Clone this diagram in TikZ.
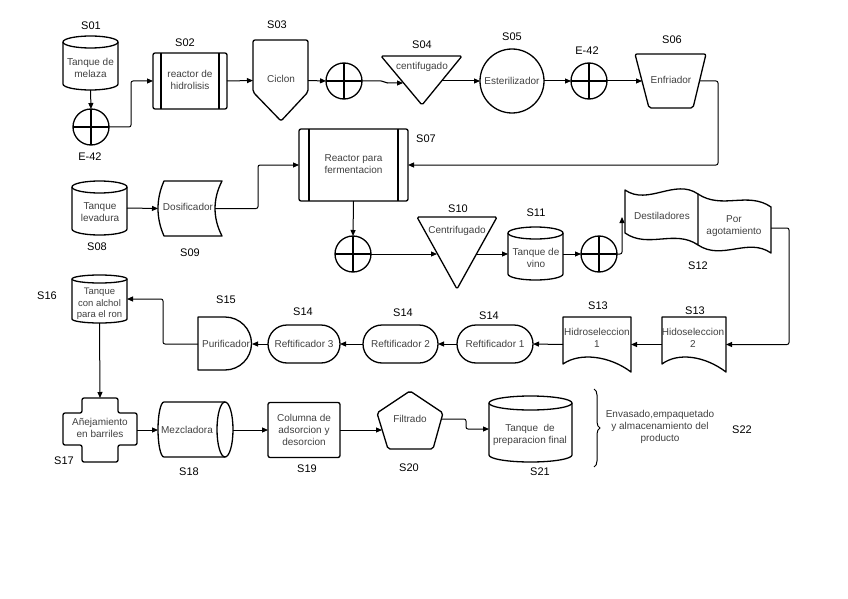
\documentclass[tikz,border=0pt]{standalone}
\usepackage{fontspec}
\setmainfont{Liberation Sans}
\usetikzlibrary{arrows.meta,decorations.pathreplacing}
\newcommand\VCyl[5]{%
 \pgfmathsetmacro\cylrx{(#3-#1)/2}%
 \draw[shp] (#1,#2+#5) -- (#1,#4-#5) arc[start angle=180,end angle=360,x radius=\cylrx pt,y radius=#5pt] -- (#3,#2+#5) arc[start angle=0,end angle=180,x radius=\cylrx pt,y radius=#5pt] -- cycle;
 \draw[shp] (#1,#2+#5) arc[start angle=180,end angle=360,x radius=\cylrx pt,y radius=#5pt];
}
\begin{document}
\begin{tikzpicture}[x=1pt,y=-1pt,
 shp/.style={line width=1.3pt, line join=round},
 bnd/.style={inner sep=0pt, outer sep=0pt, draw=none, rectangle},
 lbl/.style={font=\fontsize{11}{13}\selectfont, text=black, inner sep=0pt},
 txt/.style={font=\fontsize{10}{12}\selectfont, text=black!75, align=center, inner sep=0pt, outer sep=0pt},
 con/.style={line width=1pt, rounded corners=2pt, -{Triangle[length=6pt,width=5pt]}},
 xcirc/.style={circle, draw, shp, minimum size=36pt, inner sep=0pt, outer sep=0pt},
]
\useasboundingbox (0,0) rectangle (848,599);

% S01
\VCyl{63}{36}{118}{90}{6}
\node[bnd, minimum width=55pt, minimum height=54pt] (s01) at (90.5,63) {};
\node[txt] (t01) at (90.5,68) {Tanque de\\melaza};
\node[lbl] (l01) at (91,26) {S01};

% E-42 (1)
\node[xcirc] (e1) at (91,127) {};
\draw[shp] (e1.north) -- (e1.south) (e1.west) -- (e1.east);
\node[lbl] (le1) at (90,157) {E-42};

% S02
\node[shp, draw, rounded corners=2pt, minimum width=74pt, minimum height=56pt, inner sep=0pt, outer sep=0pt] (s02) at (190,81) {};
\draw[shp] ([xshift=8pt]s02.north west) -- ([xshift=8pt]s02.south west) ([xshift=-8pt]s02.north east) -- ([xshift=-8pt]s02.south east);
\node[txt] (t02) at (190,80) {reactor de\\hidrolisis};
\node[lbl] (l02) at (185,43) {S02};

% S03
\draw[shp, rounded corners=2pt] (253,40) -- (308,40) -- (308,92) -- (281,121) -- (253,92) -- cycle;
\node[bnd, minimum width=55pt, minimum height=81pt] (s03) at (280.5,80.5) {};
\node[txt] (t03) at (281,79) {Ciclon};
\node[lbl] (l03) at (277,25) {S03};

% E-42 (2)
\node[xcirc] (e2) at (344,81) {};
\draw[shp] (e2.north) -- (e2.south) (e2.west) -- (e2.east);

% S04
\draw[shp, rounded corners=1.5pt] (381,56) -- (462,56) -- (422,105) -- cycle;
\coordinate (s04in) at (403,83);
\coordinate (s04out) at (442,81);
\node[txt] (t04) at (422,67) {centifugado};
\node[lbl] (l04) at (422,45) {S04};

% S05
\node[txt, shp, draw, circle, minimum size=64pt] (s05) at (512,81) {Esterilizador};
\node[lbl] (l05) at (512,37) {S05};

% E-42 (3)
\node[xcirc] (e3) at (589,81) {};
\draw[shp] (e3.north) -- (e3.south) (e3.west) -- (e3.east);
\node[lbl] (le3) at (587,51) {E-42};

% S06
\draw[shp, rounded corners=2pt] (635,54) -- (706,54) -- (693,108) -- (649,108) -- cycle;
\coordinate (s06in) at (642,81);
\coordinate (s06out) at (700,81);
\node[txt] (t06) at (671,80) {Enfriador};
\node[lbl] (l06) at (672,40) {S06};

% S07
\node[shp, draw, rounded corners=2pt, minimum width=109pt, minimum height=72pt, inner sep=0pt, outer sep=0pt] (s07) at (353.5,165) {};
\draw[shp] ([xshift=10pt]s07.north west) -- ([xshift=10pt]s07.south west) ([xshift=-10pt]s07.north east) -- ([xshift=-10pt]s07.south east);
\node[txt] (t07) at (353.5,164) {Reactor para\\fermentacion};
\node[lbl] (l07) at (426,139) {S07};

% S08
\VCyl{72}{181}{127}{235}{6}
\node[bnd, minimum width=55pt, minimum height=54pt] (s08) at (99.5,208) {};
\node[txt] (t08) at (100,212) {Tanque\\levadura};
\node[lbl] (l08) at (97,247) {S08};

% S09
\draw[shp] (164,181) -- (222,181) .. controls (212.7,199) and (212.7,218) .. (222,236) -- (164,236) .. controls (156,218) and (156,199) .. (164,181) -- cycle;
\node[bnd, minimum width=64pt, minimum height=55pt] (s09) at (190,208.5) {};
\coordinate (s09out) at (215,208.5);
\node[txt] (t09) at (188,207) {Dosificador};
\node[lbl] (l09) at (190,253) {S09};

% E (4)
\node[xcirc] (e4) at (353,254) {};
\draw[shp] (e4.north) -- (e4.south) (e4.west) -- (e4.east);

% S10
\draw[shp, rounded corners=1.5pt] (417,217) -- (497,217) -- (457,289) -- cycle;
\coordinate (s10in) at (437,254);
\coordinate (s10out) at (476,254);
\node[txt] (t10) at (457,231) {Centrifugado};
\node[lbl] (l10) at (458,209) {S10};

% S11
\VCyl{508}{227}{563}{280}{6}
\node[bnd, minimum width=55pt, minimum height=53pt] (s11) at (535.5,254) {};
\node[txt] (t11) at (536,258) {Tanque de\\vino};
\node[lbl] (l11) at (536,213) {S11};

% E (5)
\node[xcirc] (e5) at (599,254) {};
\draw[shp] (e5.north) -- (e5.south) (e5.west) -- (e5.east);
\coordinate (s12in) at (622,217);

% S12
\draw[shp] (625,190) .. controls (648,206) and (675,178) .. (698,194) -- (698,245) .. controls (675,229) and (648,249) .. (625,233) -- cycle;
\draw[shp] (698,194) .. controls (722,210) and (748,191) .. (771,207) -- (771,253) .. controls (748,237) and (722,261) .. (698,245);
\coordinate (s12out) at (771,228);
\node[txt] (t12a) at (662,216) {Destiladores};
\node[txt] (t12b) at (734,226) {Por\\agotamiento};
\node[lbl] (l12) at (698,266) {S12};

% S13 (2)
\draw[shp] (662,364) -- (662,317) -- (726,317) -- (726,372) .. controls (705,356) and (678,352) .. (662,364) -- cycle;
\node[bnd, minimum width=64pt, minimum height=55pt] (s13b) at (694,344.5) {};
\node[txt] (t13b) at (693,338) {Hidoseleccion\\2};
\node[lbl] (l13b) at (695,311) {S13};

% S13 (1)
\draw[shp] (563,364) -- (563,317) -- (631,317) -- (631,372) .. controls (610,356) and (580,352) .. (563,364) -- cycle;
\node[bnd, minimum width=68pt, minimum height=55pt] (s13a) at (597,344.5) {};
\node[txt] (t13a) at (597,338) {Hidroseleccion\\1};
\node[lbl] (l13a) at (598,306) {S13};

% S14
\node[txt, shp, draw, rounded corners=19pt, minimum width=76pt, minimum height=38pt] (r1) at (495,344) {Reftificador 1};
\node[lbl] (l14a) at (489,316) {S14};
\node[txt, shp, draw, rounded corners=19pt, minimum width=75pt, minimum height=38pt] (r2) at (400.5,344) {Reftificador 2};
\node[lbl] (l14b) at (403,313) {S14};
\node[txt, shp, draw, rounded corners=19pt, minimum width=72pt, minimum height=38pt] (r3) at (304,344) {Reftificador 3};
\node[lbl] (l14c) at (303,312) {S14};

% S15
\draw[shp] (225,317) -- (198,317) -- (198,370) -- (225,370) arc[start angle=-90,end angle=90,radius=26.5pt] -- cycle;
\node[bnd, minimum width=54pt, minimum height=53pt] (s15) at (225,344) {};
\node[txt] (t15) at (226,344) {Purificador};
\node[lbl] (l15) at (226,300) {S15};

% S16
\VCyl{72}{275}{127}{323}{4}
\node[bnd, minimum width=55pt, minimum height=48pt] (s16) at (99.5,299) {};
\node[txt, font=\fontsize{9.5}{11.5}\selectfont] (t16) at (99.5,304) {Tanque\\con alchol\\para el ron};
\node[lbl] (l16) at (47,296) {S16};

% S17
\draw[shp, rounded corners=2pt] (82,398) -- (118,398) -- (118,413) -- (137,413) -- (137,445) -- (118,445) -- (118,462) -- (82,462) -- (82,445) -- (63,445) -- (63,413) -- (82,413) -- cycle;
\node[bnd, minimum width=74pt, minimum height=64pt] (s17) at (100,430) {};
\node[txt] (t17) at (100,428) {Añejamiento\\en barriles};
\node[lbl] (l17) at (64,461) {S17};

% S18
\draw[shp] (225,402) -- (164,402) arc[start angle=90,end angle=270,x radius=6pt,y radius=27.5pt] -- (225,457);
\draw[shp] (225,429.5) ellipse[x radius=8pt, y radius=27.5pt];
\node[bnd, minimum width=75pt, minimum height=55pt] (s18) at (195.5,430) {};
\node[txt] (t18) at (187,430) {Mezcladora};
\node[lbl] (l18) at (189,472) {S18};

% S19
\node[txt, shp, draw, rounded corners=2pt, minimum width=72pt, minimum height=55pt] (s19) at (304,430) {Columna de\\adsorcion y\\desorcion};
\node[lbl] (l19) at (307,469) {S19};

% S20
\draw[shp, rounded corners=2pt] (410,391) -- (443,413) -- (433,449) -- (388,449) -- (377,413) -- cycle;
\coordinate (s20in) at (382,430);
\coordinate (s20out) at (441,419);
\node[txt] (t20) at (410,419) {Filtrado};
\node[lbl] (l20) at (409,468) {S20};

% S21
\VCyl{489}{396}{572}{462}{7}
\node[bnd, minimum width=83pt, minimum height=66pt] (s21) at (530.5,429) {};
\node[txt] (t21) at (530,435) {Tanque\ \ de\\preparacion final};
\node[lbl] (l21) at (540,472) {S21};

% S22
\coordinate (b1) at (594,389);
\coordinate (b2) at (594,467);
\draw[line width=1pt, decorate, decoration={brace, amplitude=6pt}] (b1) -- (b2);
\node[txt] (t22) at (660,427) {Envasado,empaquetado\\y almacenamiento del\\producto};
\node[lbl] (l22) at (742,430) {S22};

% connectors
\draw[con] (s01.south) -- (e1.north);
\draw[con] (e1.east) -- ++(22,0) |- (s02.west);
\draw[con] (s02.east) -- (s03.west);
\draw[con] (s03.east) -- (e2.west);
\draw[con] (e2.east) -- ++(21,0) -- ++(3,2) -- (s04in);
\draw[con] (s04out) -- (s05.west);
\draw[con] (s05.east) -- (e3.west);
\draw[con] (e3.east) -- (s06in);
\draw[con] (s06out) -- ++(18,0) |- (s07.east);
\draw[con] (s08.east) -- (s09.west);
\draw[con] (s09out) -- ++(43,0) |- (s07.west);
\draw[con] (s07.south) -- (e4.north);
\draw[con] (e4.east) -- (s10in);
\draw[con] (s10out) -- (s11.west);
\draw[con] (s11.east) -- (e5.west);
\draw[con] (e5.east) -| (s12in);
\draw[con] (s12out) -- ++(18,0) |- (s13b.east);
\draw[con] (s13b.west) -- (s13a.east);
\draw[con] (s13a.west) -- (r1.east);
\draw[con] (r1.west) -- (r2.east);
\draw[con] (r2.west) -- (r3.east);
\draw[con] (r3.west) -- (s15.east);
\draw[con] (s15.west) -- ++(-35,0) |- (s16.east);
\draw[con] (s16.south) -- (s17.north);
\draw[con] (s17.east) -- (s18.west);
\draw[con] (s18.east) -- (s19.west);
\draw[con] (s19.east) -- (s20in);
\draw[con] (s20out) -- ++(25,0) |- (s21.west);
\end{tikzpicture}
\end{document}
